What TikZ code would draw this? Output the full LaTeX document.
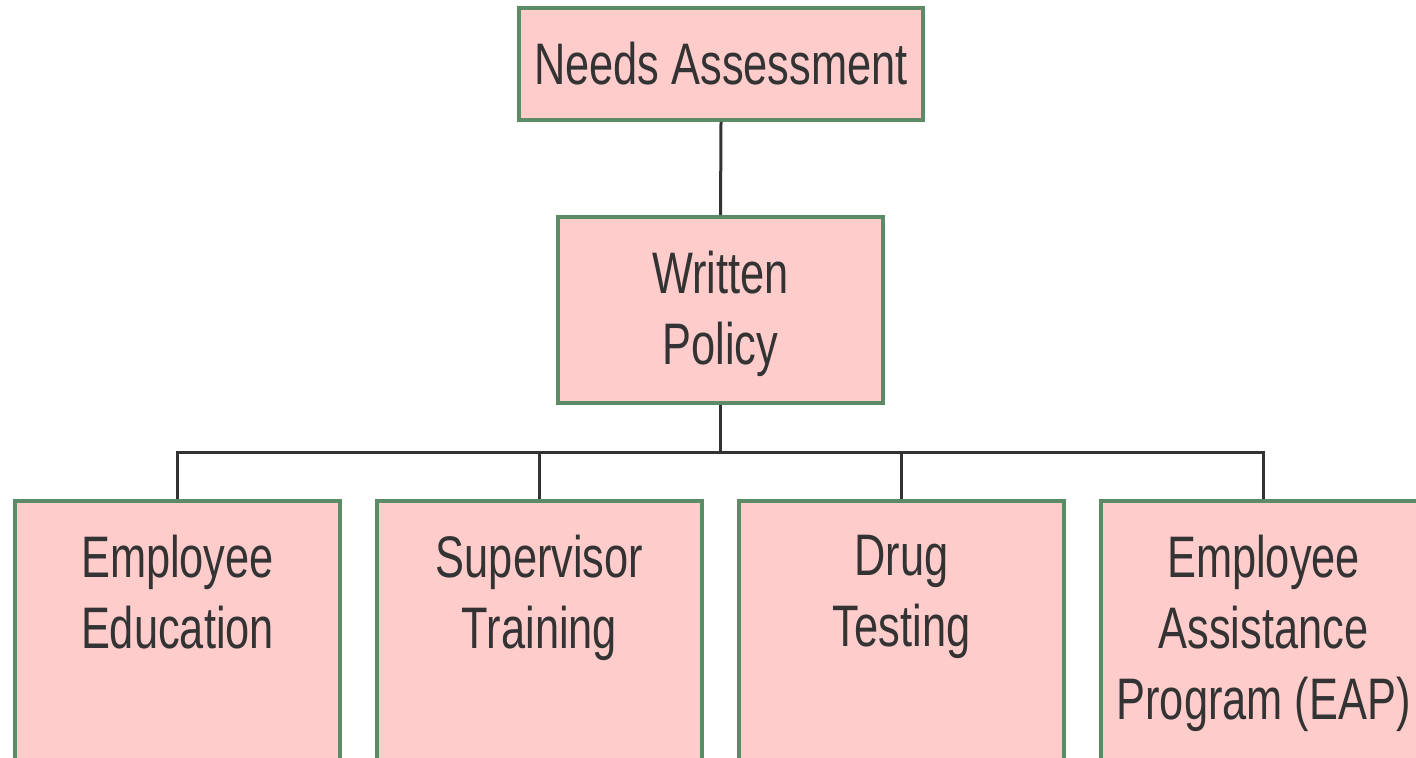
\documentclass[tikz,border=0pt]{standalone}
\usepackage{fontspec}
\setmainfont{Liberation Sans}[FakeStretch=0.74]
\definecolor{boxfill}{HTML}{FFCCCC}
\definecolor{boxedge}{HTML}{5B8C65}
\definecolor{txt}{HTML}{333333}
\begin{document}
\begin{tikzpicture}[x=0.5pt,y=-0.5pt,
  box/.style={draw=boxedge, fill=boxfill, line width=1.8pt, inner sep=0pt, text=txt, align=center,
    font=\fontsize{29.3pt}{35.5pt}\selectfont},
  lowbox/.style={box, minimum width=162.5pt, minimum height=139.5pt},
  lbl/.style={text=txt, align=center, inner sep=0pt, anchor=north,
    font=\fontsize{29.3pt}{35.5pt}\selectfont},
  conn/.style={draw=txt, line width=1.5pt}]
\useasboundingbox (0,0) rectangle (1416,758);
\clip (0,0) rectangle (1416,758);
\node[box, minimum width=202pt, minimum height=56pt] (na) at (721,64) {Needs Assessment};
\node[box, minimum width=162.5pt, minimum height=93pt] (wp) at (720.5,310) {};
\node[lbl] (wpt) at (720.5,251) {\fontsize{29.3pt}{37pt}\selectfont Written\\Policy};
\node[lowbox] (b1) at (177.5,640.5) {};
\node[lowbox] (b2) at (539.5,640.5) {};
\node[lowbox] (b3) at (901.5,640.5) {};
\node[lowbox] (b4) at (1263.5,640.5) {};
\node[lbl] (t1) at (177.5,535) {Employee\\Education};
\node[lbl] (t2) at (539.5,535) {Supervisor\\Training};
\node[lbl] (t3) at (901.5,535) {Drug\\Testing};
\node[lbl] (t4) at (1263.5,535) {Employee\\Assistance\\Program (EAP)};
\coordinate (bus) at (720.5,452);
\draw[conn] (na.south) -- (wp.north);
\draw[conn] (wp.south) -- (wp.south |- bus);
\draw[conn] (b1.north) |- (bus) -| (b4.north);
\draw[conn] (b2.north) -- (b2.north |- bus);
\draw[conn] (b3.north) -- (b3.north |- bus);
\end{tikzpicture}
\end{document}
